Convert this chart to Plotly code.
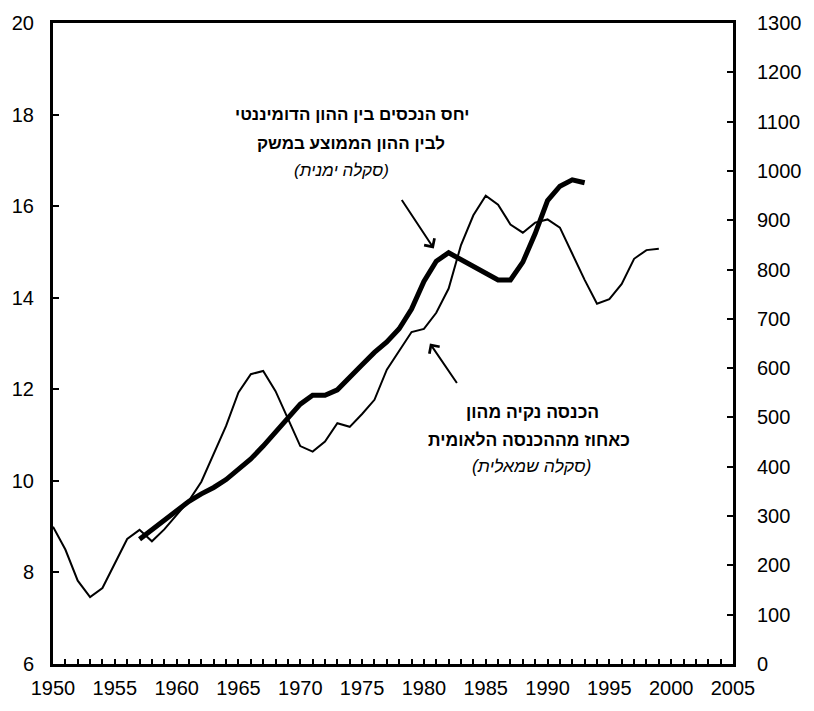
import plotly.graph_objects as go

# ---- data ----
years_share = list(range(1950, 2000))
capital_income_share = [
    9.00, 8.50, 7.82, 7.46, 7.66, 8.21, 8.73, 8.93, 8.68, 8.94,
    9.25, 9.57, 9.98, 10.59, 11.20, 11.93, 12.33, 12.40, 11.96, 11.36,
    10.76, 10.64, 10.86, 11.26, 11.18, 11.46, 11.77, 12.43, 12.85, 13.25,
    13.32, 13.67, 14.20, 15.15, 15.80, 16.23, 16.03, 15.60, 15.42, 15.64,
    15.71, 15.53, 14.96, 14.39, 13.87, 13.97, 14.30, 14.85, 15.04, 15.07,
]
years_ratio = list(range(1957, 1994))
dominant_ratio = [
    253, 272, 292, 311, 330, 345, 358, 374, 394, 416,
    442, 470, 500, 527, 545, 545, 556, 580, 607, 632,
    653, 680, 720, 776, 817, 834, 820, 806, 792, 779,
    779, 815, 873, 940, 969, 982, 976,
]

label_ratio = ["יחס הנכסים בין ההון הדומיננטי", "לבין ההון הממוצע במשק", "(סקלה ימנית)"]
label_share = ["הכנסה נקיה מהון", "כאחוז מההכנסה הלאומית", "(סקלה שמאלית)"]

FONT = "Liberation Sans, Arial, DejaVu Sans, sans-serif"

fig = go.Figure()
fig.add_trace(go.Scatter(x=years_share, y=capital_income_share, mode="lines",
                         line=dict(color="black", width=2), yaxis="y", showlegend=False,
                         hoverinfo="skip"))
fig.add_trace(go.Scatter(x=years_ratio, y=dominant_ratio, mode="lines",
                         line=dict(color="black", width=5), yaxis="y2", showlegend=False,
                         hoverinfo="skip"))

ann = []
# label for the thick line (right scale)
pos1 = [(0.44, 0.8577), (0.4386, 0.8119), (0.4243, 0.7706)]
for i, (t, (x, y)) in enumerate(zip(label_ratio, pos1)):
    txt = f"<i>{t}</i>" if i == 2 else f"<b>{t}</b>"
    ann.append(dict(text=txt, x=x, y=y, xref="paper", yref="paper", showarrow=False,
                    xanchor="center", yanchor="middle", font=dict(size=17, color="black", family=FONT)))
# label for the thin line (left scale)
pos2 = [(0.705, 0.393), (0.700, 0.3491), (0.704, 0.3084)]
for i, (t, (x, y)) in enumerate(zip(label_share, pos2)):
    txt = f"<i>{t}</i>" if i == 2 else f"<b>{t}</b>"
    ann.append(dict(text=txt, x=x, y=y, xref="paper", yref="paper", showarrow=False,
                    xanchor="center", yanchor="middle", font=dict(size=17.5, color="black", family=FONT)))
# arrows
ann.append(dict(text="", x=0.56, y=0.6483, xref="paper", yref="paper", showarrow=True,
                ax=-33, ay=-50, arrowhead=4, arrowsize=1.2, arrowwidth=2, arrowcolor="black", standoff=0))
ann.append(dict(text="", x=0.5543, y=0.5, xref="paper", yref="paper", showarrow=True,
                ax=28, ay=41, arrowhead=4, arrowsize=1.2, arrowwidth=2, arrowcolor="black", standoff=0))

tickfont = dict(size=20, color="black", family=FONT)
fig.update_layout(
    width=814, height=711,
    margin=dict(l=48, r=66, t=16, b=41),
    paper_bgcolor="white", plot_bgcolor="white",
    font=dict(family=FONT, color="black"),
    annotations=ann,
    hovermode=False,
    xaxis=dict(range=[1950, 2005], tick0=1950, dtick=5, ticks="inside", ticklen=5, tickwidth=2,
               tickcolor="black", showline=True, linewidth=3, linecolor="black", mirror=True,
               showgrid=False, zeroline=False, tickfont=tickfont, ticklabelstandoff=4,
               minor=dict(dtick=1, ticks="inside", ticklen=5, tickwidth=2, tickcolor="black", showgrid=False)),
    yaxis=dict(range=[6, 20], dtick=2, ticks="inside", ticklen=6, tickwidth=2, tickcolor="black",
               showline=True, linewidth=3, linecolor="black", showgrid=False, zeroline=False,
               tickfont=tickfont, ticklabelstandoff=12),
    yaxis2=dict(range=[0, 1300], dtick=100, ticks="inside", ticklen=6, tickwidth=2, tickcolor="black",
                overlaying="y", side="right", showline=True, linewidth=3, linecolor="black",
                showgrid=False, zeroline=False, tickfont=tickfont, ticklabelstandoff=17),
)

# remove the default 8px page margin so the figure sits at the window origin
fig.write_html("out.html", config={"displayModeBar": False, "staticPlot": True},
               post_script="document.body.style.margin='0';document.body.style.overflow='hidden';")
